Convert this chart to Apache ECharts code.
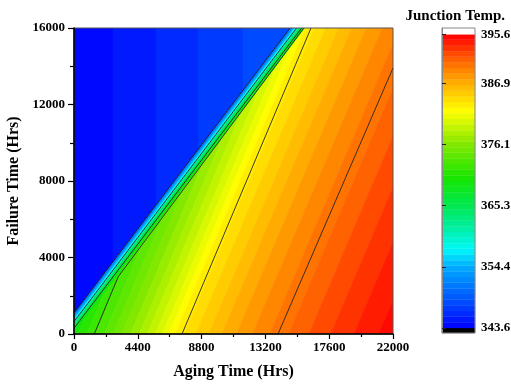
<!DOCTYPE html>
<html>
<head>
<meta charset="utf-8">
<script src="https://cdn.jsdelivr.net/npm/echarts@6/dist/echarts.min.js"></script>
<style>
  html, body { margin: 0; padding: 0; background: #fff; }
  #chart { width: 511px; height: 388px; }
</style>
</head>
<body>
<div id="chart"></div>
<script>
// contour levels of the colour scale (junction temp.)
const levels = [343.6, 344.6, 345.6, 346.6, 347.6, 348.6, 349.6, 350.6, 351.6, 352.6,
  353.6, 354.6, 355.6, 356.6, 357.6, 358.6, 359.6, 360.6, 361.6, 362.6,
  363.6, 364.6, 365.6, 366.6, 367.6, 368.6, 369.6, 370.6, 371.6, 372.6,
  373.6, 374.6, 375.6, 376.6, 377.6, 378.6, 379.6, 380.6, 381.6, 382.6,
  383.6, 384.6, 385.6, 386.6, 387.6, 388.6, 389.6, 390.6, 391.6, 392.6,
  393.6, 394.6, 395.6];
const scaleLabels = [343.6, 354.4, 365.3, 376.1, 386.9, 395.6];

// upper-left (blue) part: column edges along aging time and the temp in each column
const upperEdges = [0, 2690, 5655, 8552, 11655, 22000];
const upperTemps = [344.1, 345.1, 346.1, 347.1, 348.1];

// narrow transition strip along failure = aging + offset
const stripOffsets = [1100, 960, 820, 680, 540, 400, 260, 100];
const stripTemps = [351, 354.5, 357.5, 361, 364.5, 367, 369];

// lower-right part: aging time where each level boundary meets failure time 0
const lowerLevels = [369.6, 370.6, 371.6, 372.6, 373.6, 374.6, 375.6, 376.6, 377.6, 378.6,
  379.6, 380.6, 381.6, 382.6, 383.6, 384.6, 385.6, 386.6, 387.6, 388.6,
  389.6, 390.6, 391.6, 392.6, 393.6, 394.6];
const lowerCross = [-400, 300, 900, 1500, 2100, 2700, 3300, 3900, 4500, 5050,
  5600, 6100, 6550, 7000, 7600, 8400, 9300, 10200, 11200, 12300,
  13500, 14800, 16200, 17700, 19300, 21000];
const lowerSlope = 0.56; // aging hrs per failure hr along a contour

// black contour lines
const contourLines = [
  [[1400, 0], [3050, 3000], [15850, 16000]],
  [[7450, 0], [16345, 16000]],
  [[14070, 0], [22000, 13908]],
  [[0, 1100], [14900, 16000]],
  [[0, 650], [15350, 16000]],
  [[0, 300], [15700, 16000]]
];

const xMin = 0, xMax = 22000, yMin = 0, yMax = 16000;

// palette (style)
const palT = [343.6, 349, 354.4, 357.5, 361, 365.3, 370, 376.1, 382, 386.9, 391, 394, 395.6];
const palC = [[0, 0, 255], [0, 90, 255], [0, 170, 255], [0, 250, 250], [0, 240, 170], [0, 232, 80],
  [20, 230, 0], [130, 232, 0], [255, 255, 0], [255, 175, 0], [255, 100, 0], [255, 30, 0], [255, 0, 0]];
function tempColor(t) {
  if (t < levels[0]) return '#000';
  if (t > levels[levels.length - 1]) return '#fff';
  let i = 0;
  while (i < palT.length - 2 && t > palT[i + 1]) i++;
  const f = Math.max(0, Math.min(1, (t - palT[i]) / (palT[i + 1] - palT[i])));
  const c = palC[i].map((v, k) => Math.round(v + (palC[i + 1][k] - v) * f));
  return 'rgb(' + c.join(',') + ')';
}

// band lists built from the arrays above
const lowerBands = [[lowerCross[0] - 30000, lowerCross[0], lowerLevels[0] - 0.5]];
for (let i = 0; i < lowerCross.length - 1; i++) {
  lowerBands.push([lowerCross[i], lowerCross[i + 1], (lowerLevels[i] + lowerLevels[i + 1]) / 2]);
}
lowerBands.push([lowerCross[lowerCross.length - 1], lowerCross[lowerCross.length - 1] + 30000,
  lowerLevels[lowerLevels.length - 1] + 0.5]);

const stripBands = [];
for (let k = stripTemps.length - 1; k >= 0; k--) {
  stripBands.push([stripOffsets[k + 1], stripTemps[k]]);
}
const upperBands = upperTemps.map((t, i) => [upperEdges[i], upperEdges[i + 1], t]);

const scaleBands = [[342.7, levels[0], 343.0]];
for (let i = 0; i < levels.length - 1; i++) {
  scaleBands.push([levels[i], levels[i + 1], (levels[i] + levels[i + 1]) / 2]);
}
scaleBands.push([levels[levels.length - 1], 396.7, 396.2]);

function poly(api, pts, t) {
  const fill = tempColor(t);
  return {
    type: 'polygon',
    shape: { points: pts.map(p => api.coord(p)) },
    style: { fill: fill, stroke: fill, lineWidth: 0.6 }
  };
}

function renderLower(params, api) {
  const u1 = api.value(0), u2 = api.value(1);
  return poly(api, [[u1 + lowerSlope * yMin, yMin], [u2 + lowerSlope * yMin, yMin],
    [u2 + lowerSlope * yMax, yMax], [u1 + lowerSlope * yMax, yMax]], api.value(2));
}

function renderStrip(params, api) {
  const c = api.value(0);
  return poly(api, [[xMin, xMin + c], [yMax - c, yMax], [xMin - 30000, yMax], [xMin - 30000, xMin + c]], api.value(1));
}

function renderUpper(params, api) {
  const c = stripOffsets[0];
  const x1 = api.value(0), x2 = api.value(1);
  const top = Math.max(yMax, x2 + c);
  return poly(api, [[x1, x1 + c], [x2, x2 + c], [x2, top], [x1, top]], api.value(2));
}

function renderScale(params, api) {
  const p1 = api.coord([0, api.value(0)]);
  const p2 = api.coord([1, api.value(1)]);
  const fill = tempColor(api.value(2));
  return {
    type: 'rect',
    shape: { x: p1[0], y: p2[1], width: p2[0] - p1[0], height: p1[1] - p2[1] },
    style: { fill: fill, stroke: fill, lineWidth: 0.4 }
  };
}

const font = 'Liberation Serif';
const tickText = { fontFamily: font, fontWeight: 'bold', fontSize: 13, color: '#000' };

const chart = echarts.init(document.getElementById('chart'), null, { renderer: 'canvas' });

const series = [
  { type: 'custom', xAxisIndex: 0, yAxisIndex: 0, clip: true, z: 1, silent: true,
    renderItem: renderLower, data: lowerBands },
  { type: 'custom', xAxisIndex: 0, yAxisIndex: 0, clip: true, z: 2, silent: true,
    renderItem: renderStrip, data: stripBands },
  { type: 'custom', xAxisIndex: 0, yAxisIndex: 0, clip: true, z: 3, silent: true,
    renderItem: renderUpper, data: upperBands },
  { type: 'custom', xAxisIndex: 1, yAxisIndex: 1, clip: false, z: 1, silent: true,
    renderItem: renderScale, data: scaleBands }
];
contourLines.forEach(line => {
  series.push({
    type: 'line', xAxisIndex: 0, yAxisIndex: 0, data: line, symbol: 'none', clip: true, z: 4,
    silent: true, lineStyle: { color: '#222', width: 0.9 }
  });
});

chart.setOption({
  animation: false,
  backgroundColor: '#fff',
  title: {
    text: 'Junction Temp.', right: 1, top: 4,
    textStyle: { fontFamily: font, fontWeight: 'bold', fontSize: 15, color: '#000' }
  },
  grid: [
    { left: 74, top: 28, width: 319, height: 306, containLabel: false, outerBoundsMode: 'none',
      show: true, borderColor: '#555', borderWidth: 1, z: 5 },
    { left: 442, top: 28, width: 33, height: 305, containLabel: false, outerBoundsMode: 'none',
      show: true, borderColor: '#888', borderWidth: 1, z: 5 }
  ],
  xAxis: [
    {
      type: 'value', gridIndex: 0, min: xMin, max: xMax, interval: 4400, z: 10,
      name: 'Aging Time (Hrs)', nameLocation: 'middle', nameGap: 30,
      nameTextStyle: { fontFamily: font, fontWeight: 'bold', fontSize: 16, color: '#000' },
      axisLine: { show: true, onZero: false, lineStyle: { color: '#000', width: 1.5 } },
      axisTick: { show: true, inside: false, length: 5, lineStyle: { color: '#000', width: 1.2 } },
      minorTick: { show: true, splitNumber: 2, length: 3, lineStyle: { color: '#000', width: 1.2 } },
      axisLabel: Object.assign({ margin: 7, formatter: v => String(v) }, tickText),
      splitLine: { show: false }
    },
    {
      type: 'value', gridIndex: 1, min: 0, max: 1, show: false
    }
  ],
  yAxis: [
    {
      type: 'value', gridIndex: 0, min: yMin, max: yMax, interval: 4000, z: 10,
      name: 'Failure Time (Hrs)', nameLocation: 'middle', nameGap: 48, nameRotate: 90,
      nameTextStyle: { fontFamily: font, fontWeight: 'bold', fontSize: 16, color: '#000' },
      axisLine: { show: true, onZero: false, lineStyle: { color: '#000', width: 1.5 } },
      axisTick: { show: true, inside: false, length: 6, lineStyle: { color: '#000', width: 1.2 } },
      minorTick: { show: true, splitNumber: 2, length: 4, lineStyle: { color: '#000', width: 1.2 } },
      axisLabel: Object.assign({ margin: 9, formatter: v => String(v) }, tickText),
      splitLine: { show: false }
    },
    {
      type: 'value', gridIndex: 1, min: 342.7, max: 396.7, position: 'right', z: 10,
      axisLine: { show: true, lineStyle: { color: '#888', width: 1 } },
      axisTick: { show: true, inside: false, length: 4, customValues: scaleLabels,
        lineStyle: { color: '#222', width: 1 } },
      axisLabel: Object.assign({ margin: 6, customValues: scaleLabels,
        formatter: v => v.toFixed(1) }, tickText),
      splitLine: { show: false }
    }
  ],
  series: series
});
</script>
</body>
</html>
